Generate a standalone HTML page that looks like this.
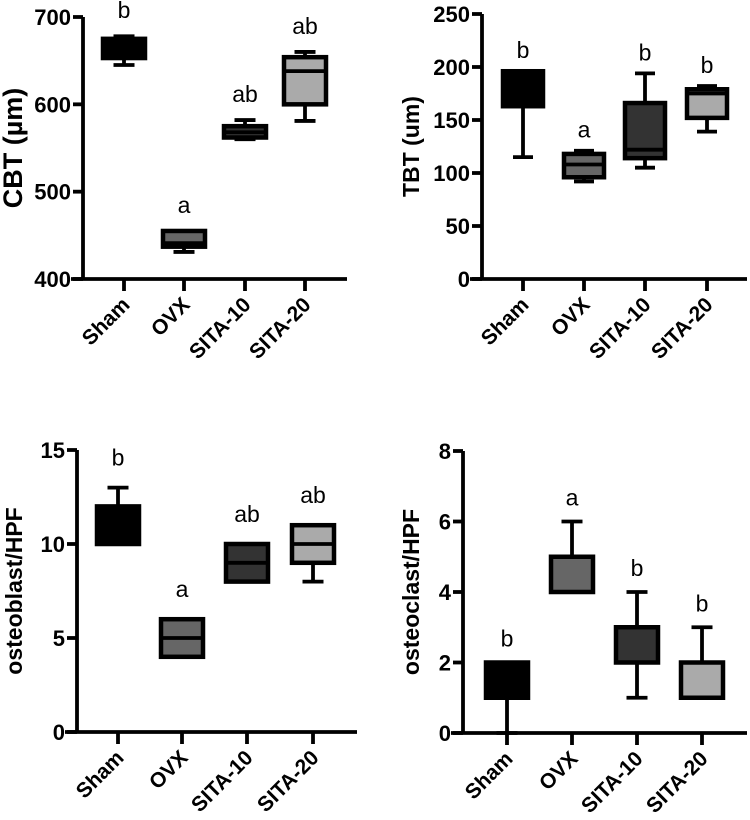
<!DOCTYPE html>
<html><head><meta charset="utf-8"><style>
html,body{margin:0;padding:0;background:#fff;width:750px;height:820px;overflow:hidden}
svg{display:block;font-family:"Liberation Sans",Arial,sans-serif}
</style></head><body>
<svg id="fig" width="750" height="820" viewBox="0 0 750 820" xmlns="http://www.w3.org/2000/svg"></svg>
<script>
const categories = ["Sham","OVX","SITA-10","SITA-20"];
const fills = ["#000","#666","#333","#aaa"];
// CBT
const cbtMin = [645,431,560,581];
const cbtQ1 = [653,437,562,600];
const cbtMed = [665,441,568,638];
const cbtQ3 = [675,455,575,654];
const cbtMax = [678,455,582,660];
const cbtLetters = ["b","a","ab","ab"];
const cbtTicks = [400,500,600,700];
// TBT
const tbtMin = [115,92,105,139];
const tbtQ1 = [163,96,114,152];
const tbtMed = [180,108,122,175];
const tbtQ3 = [196,118,166,179];
const tbtMax = [196,121,194,182];
const tbtLetters = ["b","a","b","b"];
const tbtTicks = [0,50,100,150,200,250];
// osteoblast
const obMin = [10,4,8,8];
const obQ1 = [10,4,8,9];
const obMed = [11,5,9,10];
const obQ3 = [12,6,10,11];
const obMax = [13,6,10,11];
const obLetters = ["b","a","ab","ab"];
const obTicks = [0,5,10,15];
// osteoclast
const ocMin = [0,4,1,1];
const ocQ1 = [1,4,2,1];
const ocMed = [2,4,2,2];
const ocQ3 = [2,5,3,2];
const ocMax = [2,6,4,3];
const ocLetters = ["b","a","b","b"];
const ocTicks = [0,2,4,6,8];

const NS="http://www.w3.org/2000/svg";
const svg=document.getElementById('fig');
function mk(tag,attrs,parent,text){const e=document.createElementNS(NS,tag);for(const k in attrs)e.setAttribute(k,attrs[k]);if(text!==undefined)e.textContent=text;(parent||svg).appendChild(e);return e;}

function panel(p){
  const g=mk('g',{});
  
  
  const y=v=>p.yBot-(v-p.lo)/(p.hi-p.lo)*(p.yBot-p.yTop);
  const x=i=>p.cats[i];
  const sw=3.8, bsw=4.5;
  categories.forEach((c,i)=>{
    const cx=x(i),hw=p.bw/2;
    const bg=mk('g',{},g);
    
    
    mk('line',{x1:cx,x2:cx,y1:y(p.max[i]),y2:y(p.q3[i]),stroke:'#000','stroke-width':sw},bg);
    mk('line',{x1:cx,x2:cx,y1:y(p.q1[i]),y2:y(p.min[i]),stroke:'#000','stroke-width':sw},bg);
    mk('line',{x1:cx-hw/2,x2:cx+hw/2,y1:y(p.max[i]),y2:y(p.max[i]),stroke:'#000','stroke-width':sw},bg);
    mk('line',{x1:cx-hw/2,x2:cx+hw/2,y1:y(p.min[i]),y2:y(p.min[i]),stroke:'#000','stroke-width':sw},bg);
    mk('rect',{x:cx-hw,y:y(p.q3[i]),width:p.bw,height:Math.max(0.5,y(p.q1[i])-y(p.q3[i])),fill:fills[i],stroke:'#000','stroke-width':bsw},bg);
    mk('line',{x1:cx-hw,x2:cx+hw,y1:y(p.med[i]),y2:y(p.med[i]),stroke:'#000','stroke-width':sw},bg);
    const t=mk('text',{x:cx,y:y(p.max[i])-p.lg,'text-anchor':'middle','font-size':23},g,p.letters[i]);
    
    
    mk('line',{x1:cx,x2:cx,y1:p.yBot,y2:p.yBot+12,stroke:'#000','stroke-width':sw},g);
    const lx=cx+7,ly=p.yBot+27;
    const cl=mk('text',{x:lx,y:ly,'text-anchor':'end','font-size':21,'font-weight':'bold',transform:`rotate(-45 ${lx} ${ly})`},g,c);
    
    
  });
  mk('line',{x1:p.ax,x2:p.ax,y1:p.yTop,y2:p.yBot,stroke:'#000','stroke-width':sw},g);
  mk('line',{x1:p.ax-12,x2:p.xEnd,y1:p.yBot,y2:p.yBot,stroke:'#000','stroke-width':sw},g);
  p.ticks.forEach(v=>{
    mk('line',{x1:p.ax-10,x2:p.ax,y1:y(v),y2:y(v),stroke:'#000','stroke-width':sw},g);
    const t=mk('text',{x:p.ax-12,y:y(v)+8,'text-anchor':'end','font-size':22,'font-weight':'bold'},g,String(v));
    
    
  });
  const my=(p.yTop+p.yBot)/2;
  const yt=mk('text',{x:p.tx,y:my,'text-anchor':'middle','font-size':p.tfs,'font-weight':'bold',transform:`rotate(-90 ${p.tx} ${my})`},g,p.title);
  
  
}

panel({name:'cbt-chart',ax:83,yTop:17,yBot:279,xEnd:347,lo:400,hi:700,cats:[124,184,245,305],bw:42,min:cbtMin,q1:cbtQ1,med:cbtMed,q3:cbtQ3,max:cbtMax,letters:cbtLetters,ticks:cbtTicks,title:'CBT (µm)',tx:22,tfs:27,lg:18});
panel({name:'tbt-chart',ax:482,yTop:14,yBot:279,xEnd:747,lo:0,hi:250,cats:[523,584,645,707],bw:40,min:tbtMin,q1:tbtQ1,med:tbtMed,q3:tbtQ3,max:tbtMax,letters:tbtLetters,ticks:tbtTicks,title:'TBT (um)',tx:419,tfs:23,lg:13});
panel({name:'osteoblast-chart',ax:77,yTop:450,yBot:732,xEnd:357,lo:0,hi:15,cats:[118,182,247,313],bw:42,min:obMin,q1:obQ1,med:obMed,q3:obQ3,max:obMax,letters:obLetters,ticks:obTicks,title:'osteoblast/HPF',tx:22,tfs:23,lg:22});
panel({name:'osteoclast-chart',ax:463,yTop:451,yBot:733,xEnd:747,lo:0,hi:8,cats:[507,572,637,702],bw:42,min:ocMin,q1:ocQ1,med:ocMed,q3:ocQ3,max:ocMax,letters:ocLetters,ticks:ocTicks,title:'osteoclast/HPF',tx:419,tfs:23,lg:16});
</script>
</body></html>
